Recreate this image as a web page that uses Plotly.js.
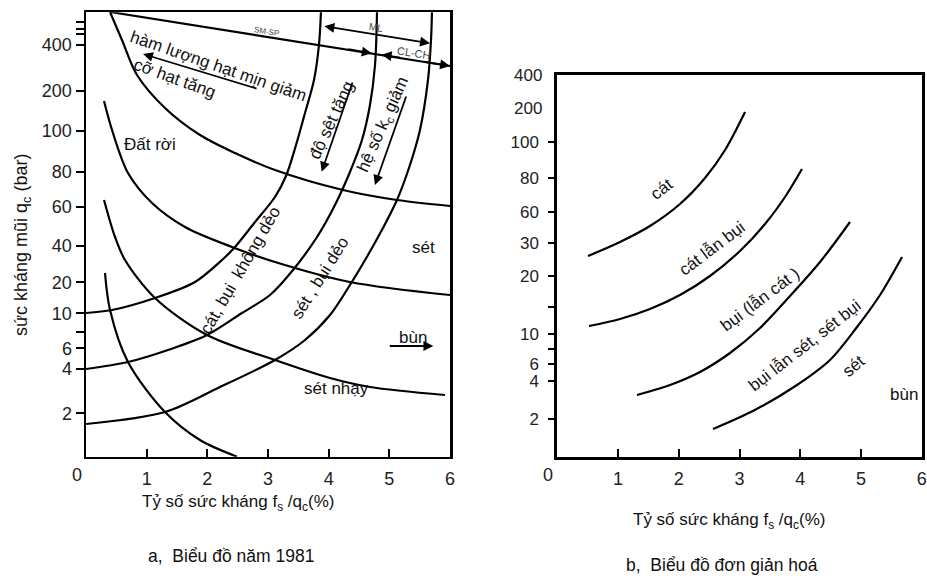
<!DOCTYPE html>
<html>
<head>
<meta charset="utf-8">
<script src="https://cdn.plot.ly/plotly-3.0.1.min.js"></script>
<style>html,body{margin:0;padding:0;background:#fff;}#chart{width:927px;height:576px;}</style>
</head>
<body>
<div id="chart"></div>
<script>
// ---------- Chart a (1981): x = fs/qc (%), y = position on the chart's non-uniform qc scale ----------
const aXTicks = [1, 2, 3, 4, 5, 6];
const aXTickText = ['1', '2', '3', '4', '5', '6'];
const aYTickPos = [43.4, 87.7, 108.4, 125, 143.4, 174.4, 211, 249.7, 284.7, 325.7, 365.7, 411.7, 422.7, 427.7, 435];
const aYTickText = ['2', '4', '6', '', '10', '20', '40', '60', '80', '100', '200', '400', '', '', ''];

// SM-SP / CL-CH boundary line
const aTopX = [0.396, 6.0];
const aTopY = [444.7, 390.7];
// boundary from top-left (grain size)
const aDX = [0.396, 0.593, 0.841, 1.302, 1.879, 2.456, 3.115, 4.236, 5.126, 6.0];
const aDY = [444.7, 416.7, 381.7, 348.7, 321.7, 303.7, 286.7, 266.7, 256.7, 250.7];
// boundary above "sét"
const aEX = [0.297, 0.429, 0.692, 1.088, 1.632, 2.406, 3.115, 4.351, 6.0];
const aEY = [355.7, 326.7, 283.7, 253.7, 229.7, 209.7, 194.7, 174.7, 161.7];
// boundary above "sét nhạy"
const aFX = [0.297, 0.478, 0.643, 1.137, 1.994, 3.115, 4.022, 4.681, 5.917];
const aFY = [256.7, 219.7, 196.7, 158.7, 121.7, 96.7, 78.7, 69.7, 61.7];
// lowest decreasing boundary
const aGX = [0.313, 0.396, 0.692, 1.302, 1.879, 2.489];
const aGY = [183.7, 146.7, 94.7, 44.7, 16.7, 0];
// rising boundary starting at 10
const aAX = [0, 0.429, 1.137, 1.797, 2.242, 2.456, 2.786, 3.115, 3.297, 3.462, 3.610, 3.758, 3.840, 3.873];
const aAY = [143.7, 146.7, 158.7, 174.7, 196.7, 209.7, 234.7, 259.7, 280.7, 311.7, 343.7, 376.7, 411.7, 444.7];
// rising boundary starting at 4
const aBX = [0, 0.692, 1.352, 1.994, 2.571, 3.033, 3.412, 3.808, 4.104, 4.351, 4.549, 4.681, 4.764, 4.797];
const aBY = [87.7, 94.7, 106.7, 121.7, 143.7, 161.7, 186.7, 219.7, 251.7, 284.7, 316.7, 351.7, 391.7, 444.7];
// rising boundary starting below 2
const aCX = [0, 1.302, 2.176, 3.115, 3.610, 4.022, 4.351, 4.648, 4.895, 5.126, 5.340, 5.505, 5.637, 5.687, 5.703];
const aCY = [32.7, 44.7, 68.7, 96.7, 116.7, 141.7, 171.7, 201.7, 228.7, 256.7, 291.7, 326.7, 376.7, 416.7, 444.7];

// ---------- Chart b (simplified) ----------
const bXTicks = [1, 2, 3, 4, 5, 6];
const bXTickText = ['1', '2', '3', '4', '5', '6'];
const bYTickPos = [37.7, 75.4, 92.7, 107.4, 122.4, 150, 181, 213.7, 244.7, 278.7, 314.7];
const bYTickText = ['2', '4', '6', '', '10', '', '20', '30', '60', '80', '100'];
const bYExtraPos = [348.7, 381.7];
const bYExtraText = ['200', '400'];

const b1X = [0.506, 1.032, 1.526, 2.020, 2.432, 2.762, 3.091];
const b1Y = [200.7, 214.7, 230.7, 252.7, 278.7, 306.7, 344.7];
const b2X = [0.522, 1.032, 1.526, 2.020, 2.514, 3.008, 3.420, 3.749, 4.029];
const b2Y = [130.7, 137.7, 147.7, 161.7, 180.7, 205.7, 232.7, 259.7, 287.7];
const b3X = [1.312, 1.856, 2.350, 2.844, 3.338, 3.832, 4.326, 4.820];
const b3Y = [61.7, 71.7, 84.7, 103.7, 128.7, 160.7, 194.7, 234.7];
const b4X = [2.564, 3.252, 3.947, 4.490, 4.935, 5.314, 5.676];
const b4Y = [27.7, 46.7, 71.7, 96.7, 129.7, 161.7, 199.7];

// ---------- labels ----------
const aLabels = [
  {t: 'hàm lượng hạt mịn giảm', x: 2.192, y: 390.7, a: 19},
  {t: 'cỡ hạt tăng', x: 1.467, y: 378.7, a: 20},
  {t: 'Đất rời', x: 1.055, y: 312.7, a: 0},
  {t: 'độ sệt tăng', x: 4.038, y: 336.7, a: -65},
  {t: 'hệ số k<sub>c</sub> giảm', x: 4.912, y: 331.7, a: -66},
  {t: 'cát, bụi  không dẻo', x: 2.538, y: 186.7, a: -60},
  {t: 'sét , bụi dẻo', x: 3.857, y: 179.7, a: -58},
  {t: 'sét', x: 5.571, y: 209.7, a: 0},
  {t: 'bùn', x: 5.382, y: 119.7, a: 0},
  {t: 'sét nhạy', x: 4.132, y: 68.7, a: 0}
];
const aSmallLabels = [
  {t: 'SM-SP', x: 2.967, y: 425.7, s: 8},
  {t: 'ML', x: 4.780, y: 429.7, s: 10},
  {t: 'CL-CH', x: 5.406, y: 403.7, s: 11}
];
// arrows: head (x,y), tail (ax,ay)
const aArrows = [
  {x: 0.940, y: 402.7, ax: 2.835, ay: 367.7, both: false},
  {x: 3.885, y: 285, ax: 4.401, ay: 375.7, both: false},
  {x: 4.763, y: 271.7, ax: 5.286, ay: 361.7, both: false},
  {x: 5.725, y: 110.7, ax: 4.983, ay: 110.7, both: false},
  {x: 5.670, y: 413.4, ax: 3.906, ay: 430.7, both: true},
  {x: 4.709, y: 403.4, ax: 4.30, ay: 407.9, both: false},
  {x: 4.874, y: 402.0, ax: 5.20, ay: 398.9, both: false},
  {x: 6.0, y: 390.7, ax: 5.55, ay: 395.2, both: false}
];
const bLabels = [
  {t: 'cát', x: 1.708, y: 267.7, a: -38},
  {t: 'cát lẫn bụi', x: 2.547, y: 208.7, a: -37},
  {t: 'bụi (lẫn cát )', x: 3.338, y: 157.7, a: -37},
  {t: 'bụi lẫn sét, sét bụi', x: 4.076, y: 111.7, a: -38},
  {t: 'sét', x: 4.869, y: 90.7, a: -40},
  {t: 'bùn', x: 5.709, y: 62.7, a: 0}
];

const FONT = 'Liberation Sans, Arial, sans-serif';
const lineStyle = {color: 'black', width: 2.2, shape: 'spline', smoothing: 0.9};
function curve(x, y, xa, ya) {
  return {x: x, y: y, xaxis: xa, yaxis: ya, mode: 'lines', line: lineStyle, hoverinfo: 'skip'};
}
const data = [
  {x: aTopX, y: aTopY, xaxis: 'x', yaxis: 'y', mode: 'lines', line: {color: 'black', width: 2.2}, hoverinfo: 'skip'},
  curve(aDX, aDY, 'x', 'y'), curve(aEX, aEY, 'x', 'y'), curve(aFX, aFY, 'x', 'y'),
  curve(aGX, aGY, 'x', 'y'), curve(aAX, aAY, 'x', 'y'), curve(aBX, aBY, 'x', 'y'), curve(aCX, aCY, 'x', 'y'),
  curve(b1X, b1Y, 'x2', 'y2'), curve(b2X, b2Y, 'x2', 'y2'), curve(b3X, b3Y, 'x2', 'y2'), curve(b4X, b4Y, 'x2', 'y2')
];

const W = 927, H = 576;
const ann = [];
const C = {xanchor: 'center', yanchor: 'middle', showarrow: false};
aLabels.forEach(l => ann.push(Object.assign({text: l.t, x: l.x, y: l.y, xref: 'x', yref: 'y',
  textangle: l.a, font: {family: FONT, size: 17, color: '#111'}}, C)));
aSmallLabels.forEach(l => ann.push(Object.assign({text: l.t, x: l.x, y: l.y, xref: 'x', yref: 'y',
  textangle: 9, font: {family: FONT, size: l.s, color: '#444'}}, C)));
aArrows.forEach(a => ann.push({text: '', x: a.x, y: a.y, ax: a.ax, ay: a.ay, xref: 'x', yref: 'y',
  axref: 'x', ayref: 'y', showarrow: true, arrowhead: 2, arrowsize: 1.1, arrowwidth: 1.8, arrowcolor: 'black',
  arrowside: a.both ? 'end+start' : 'end', startarrowhead: 2, startarrowsize: 1.1, standoff: 0, startstandoff: 0}));
bLabels.forEach(l => ann.push(Object.assign({text: l.t, x: l.x, y: l.y, xref: 'x2', yref: 'y2',
  textangle: l.a, font: {family: FONT, size: 17, color: '#111'}}, C)));
bYExtraPos.forEach((p, i) => ann.push({text: bYExtraText[i], x: 544 / W, y: p, xref: 'paper', yref: 'y2',
  xanchor: 'right', yanchor: 'middle', showarrow: false, font: {family: FONT, size: 17, color: '#222'}}));
// "0" origin labels
ann.push(Object.assign({text: '0', x: 77 / W, y: 1 - 475 / H, xref: 'paper', yref: 'paper',
  font: {family: FONT, size: 18, color: '#222'}}, C));
ann.push(Object.assign({text: '0', x: 548 / W, y: 1 - 475 / H, xref: 'paper', yref: 'paper',
  font: {family: FONT, size: 18, color: '#222'}}, C));
// titles
ann.push(Object.assign({text: 'sức kháng mũi q<sub>c</sub> (bar)', x: 22 / W, y: 1 - 245 / H, xref: 'paper', yref: 'paper',
  textangle: -90, font: {family: FONT, size: 18, color: '#111'}}, C));
ann.push(Object.assign({text: 'Tỷ số sức kháng f<sub>s</sub> /q<sub>c</sub>(%)', x: 238 / W, y: 1 - 503 / H, xref: 'paper', yref: 'paper',
  font: {family: FONT, size: 17, color: '#111'}}, C));
ann.push(Object.assign({text: 'Tỷ số sức kháng f<sub>s</sub> /q<sub>c</sub>(%)', x: 729 / W, y: 1 - 521 / H, xref: 'paper', yref: 'paper',
  font: {family: FONT, size: 17, color: '#111'}}, C));
ann.push(Object.assign({text: 'a,  Biểu đồ năm 1981', x: 231 / W, y: 1 - 556 / H, xref: 'paper', yref: 'paper',
  font: {family: FONT, size: 17.5, color: '#111'}}, C));
ann.push(Object.assign({text: 'b,  Biểu đồ đơn giản hoá', x: 722 / W, y: 1 - 565 / H, xref: 'paper', yref: 'paper',
  font: {family: FONT, size: 17.5, color: '#111'}}, C));

const tickFont = {family: FONT, size: 18, color: '#222'};
const baseX = {showgrid: false, zeroline: false, showline: true, linecolor: 'black', mirror: true,
  ticks: 'inside', ticklen: 8, tickwidth: 2, tickcolor: 'black', tickfont: tickFont, tickmode: 'array',
  fixedrange: true, ticklabelstandoff: 4};
const baseY = {showgrid: false, zeroline: false, showline: true, linecolor: 'black', mirror: true,
  ticks: 'outside', tickwidth: 2, tickcolor: 'black', tickfont: tickFont, tickmode: 'array', fixedrange: true};

const layout = {
  width: W, height: H, margin: {l: 0, r: 0, t: 0, b: 0},
  paper_bgcolor: 'white', plot_bgcolor: 'white', showlegend: false,
  xaxis: Object.assign({}, baseX, {domain: [86 / W, 450 / W], range: [0, 6], anchor: 'y',
    tickvals: aXTicks, ticktext: aXTickText, linewidth: 2.5}),
  yaxis: Object.assign({}, baseY, {domain: [1 - 456.7 / H, 1 - 12.3 / H], range: [0, 444.4], anchor: 'x',
    tickvals: aYTickPos, ticktext: aYTickText, ticklen: 8, linewidth: 2.5}),
  xaxis2: Object.assign({}, baseX, {domain: [557.3 / W, 921.7 / W], range: [0, 6], anchor: 'y2',
    tickvals: bXTicks, ticktext: bXTickText, linewidth: 3}),
  yaxis2: Object.assign({}, baseY, {domain: [1 - 456.7 / H, 1 - 75 / H], range: [0, 381.7], anchor: 'x2',
    tickvals: bYTickPos, ticktext: bYTickText, ticklen: 6, linewidth: 3, ticklabelstandoff: 6,
    tickfont: {family: FONT, size: 17, color: '#222'}}),
  annotations: ann
};

Plotly.newPlot('chart', data, layout, {displayModeBar: false, staticPlot: true});
</script>
</body>
</html>
